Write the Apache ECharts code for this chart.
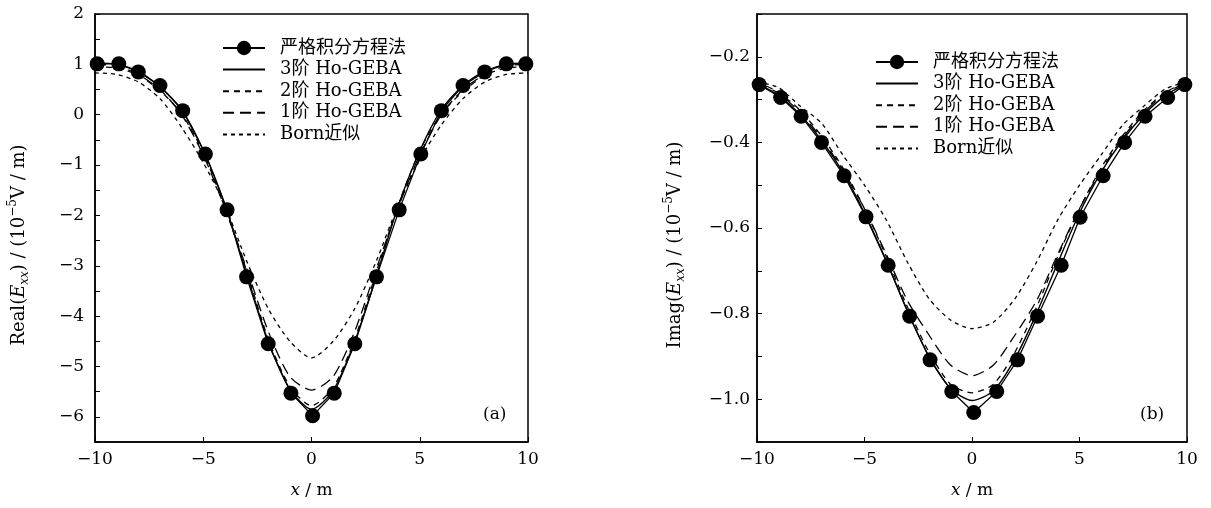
<!DOCTYPE html>
<html>
<head>
<meta charset="utf-8">
<script src="https://cdn.jsdelivr.net/npm/echarts@6/dist/echarts.min.js"></script>
<style>
  html, body { margin: 0; padding: 0; background: #fff; }
  #chart { width: 1211px; height: 508px; }
</style>
</head>
<body>
<div id="chart"></div>
<script>
// ---------- data ----------
const seriesNames = ['严格积分方程法', '3阶 Ho-GEBA', '2阶 Ho-GEBA', '1阶 Ho-GEBA', 'Born近似'];

// x positions of the approximate-method curves (m)
const xLine = [-10, -9, -8, -7, -6, -5, -4, -3, -2, -1, 0, 1, 2, 3, 4, 5, 6, 7, 8, 9, 10];

// (a) Real(Exx)
const xExactA = [-9.9, -8.9, -8, -7, -5.95, -4.9, -3.9, -3, -2, -0.95, 0.05, 1.05, 2, 3, 4.05, 5.05, 6, 7, 8, 9, 9.9];
const exactA  = [1.01, 1.01, 0.85, 0.58, 0.08, -0.78, -1.89, -3.22, -4.55, -5.53, -5.98, -5.53, -4.55, -3.22, -1.89, -0.78, 0.08, 0.58, 0.85, 1.01, 1.01];
const order3A = [1.03, 1.0, 0.86, 0.55, 0.1, -0.7, -1.78, -3.15, -4.5, -5.45, -5.85, -5.48, -4.5, -3.2, -1.82, -0.72, 0.1, 0.58, 0.86, 1.0, 1.03];
const order2A = [0.95, 0.93, 0.78, 0.48, 0.02, -0.75, -1.85, -3.1, -4.45, -5.4, -5.78, -5.42, -4.45, -3.12, -1.8, -0.72, 0.02, 0.46, 0.78, 0.93, 0.95];
const order1A = [1.0, 0.97, 0.8, 0.5, 0.0, -0.8, -1.85, -3.05, -4.3, -5.2, -5.47, -5.2, -4.3, -3.05, -1.85, -0.8, 0.0, 0.5, 0.8, 0.97, 1.0];
const bornA   = [0.83, 0.8, 0.65, 0.32, -0.25, -0.95, -1.8, -2.9, -3.85, -4.5, -4.83, -4.5, -3.85, -2.9, -1.8, -0.9, -0.2, 0.32, 0.65, 0.8, 0.83];

// (b) Imag(Exx)
const xExactB = [-9.9, -8.9, -7.95, -7, -5.95, -4.93, -3.9, -2.9, -1.95, -0.94, 0.08, 1.15, 2.12, 3.05, 4.15, 5.03, 6.1, 7.1, 8.05, 9.1, 9.9];
const exactB  = [-0.265, -0.295, -0.339, -0.40, -0.478, -0.574, -0.687, -0.806, -0.908, -0.982, -1.031, -0.982, -0.908, -0.806, -0.687, -0.575, -0.478, -0.40, -0.339, -0.295, -0.265];
const order3B = [-0.262, -0.29, -0.335, -0.395, -0.47, -0.565, -0.675, -0.795, -0.9, -0.975, -1.003, -0.98, -0.905, -0.8, -0.68, -0.565, -0.47, -0.395, -0.335, -0.29, -0.262];
const order2B = [-0.258, -0.283, -0.325, -0.385, -0.46, -0.555, -0.665, -0.785, -0.89, -0.965, -0.985, -0.965, -0.89, -0.785, -0.665, -0.555, -0.46, -0.385, -0.325, -0.283, -0.258];
const order1B = [-0.26, -0.285, -0.33, -0.39, -0.465, -0.555, -0.66, -0.77, -0.85, -0.92, -0.945, -0.92, -0.85, -0.77, -0.66, -0.555, -0.465, -0.39, -0.33, -0.285, -0.26];
const bornB   = [-0.258, -0.272, -0.315, -0.355, -0.43, -0.5, -0.58, -0.68, -0.765, -0.815, -0.835, -0.82, -0.765, -0.68, -0.58, -0.5, -0.43, -0.36, -0.315, -0.275, -0.258];

// tick labels
const xTickLabels  = [-10, -5, 0, 5, 10];
const yTickLabelsA = [2, 1, 0, -1, -2, -3, -4, -5, -6];
const yTickLabelsB = [-0.2, -0.4, -0.6, -0.8, -1.0];

// ---------- helpers ----------
const FONT = "'DejaVu Serif', 'Noto Sans CJK SC', serif";
const pair = (xs, ys) => xs.map((x, i) => [x, ys[i]]);
const fmtNum = (v, dec) => {
  const s = Math.abs(v).toFixed(dec);
  return (v < -1e-9 ? '\u2212' : '') + s;
};
const inList = (v, list) => list.some(t => Math.abs(t - v) < 1e-6);

function xAxisCfg(gridIndex) {
  return {
    type: 'value', gridIndex, min: -10, max: 10, interval: 5,
    axisLine: { show: true, onZero: false, lineStyle: { color: '#000', width: 1.5 } },
    axisTick: { show: true, inside: true, length: 5, lineStyle: { color: '#000', width: 1 } },
    axisLabel: {
      margin: 9, color: '#000', fontFamily: FONT, fontSize: 17,
      formatter: v => inList(v, xTickLabels) ? fmtNum(v, 0) : ''
    },
    splitLine: { show: false },
    name: '{i|x} / m', nameLocation: 'middle', nameGap: 40,
    nameTextStyle: {
      color: '#000', fontFamily: FONT, fontSize: 17,
      rich: { i: { fontStyle: 'italic', fontFamily: FONT, fontSize: 17, color: '#000' } }
    }
  };
}

const nameRich = {
  e: { fontStyle: 'italic', fontFamily: FONT, fontSize: 18, color: '#000', lineHeight: 24 },
  sub: { fontStyle: 'italic', fontFamily: FONT, fontSize: 12, color: '#000', verticalAlign: 'bottom', lineHeight: 24 },
  sup: { fontFamily: FONT, fontSize: 12, color: '#000', verticalAlign: 'top', lineHeight: 24 }
};

function yAxisCfg(gridIndex, min, max, interval, labels, dec, name, gap, margin) {
  return {
    type: 'value', gridIndex, min, max, interval,
    axisLine: { show: true, onZero: false, lineStyle: { color: '#000', width: 1.5 } },
    axisTick: { show: true, inside: true, length: 5, lineStyle: { color: '#000', width: 1 } },
    axisLabel: {
      margin, color: '#000', fontFamily: FONT, fontSize: 17,
      showMinLabel: true, showMaxLabel: true,
      formatter: v => inList(v, labels) ? fmtNum(v, dec) : ''
    },
    splitLine: { show: false },
    name, nameLocation: 'middle', nameRotate: 90, nameGap: gap,
    nameTextStyle: { color: '#000', fontFamily: FONT, fontSize: 18, lineHeight: 24, rich: nameRich, padding: [0, 34, 0, 0] }
  };
}

const styles = [
  { symbol: 'circle', symbolSize: 15, lineStyle: { color: '#000', width: 1.3, type: 'solid' } },
  { symbol: 'none', lineStyle: { color: '#000', width: 1.4, type: 'solid' } },
  { symbol: 'none', lineStyle: { color: '#000', width: 1.3, type: [6, 5] } },
  { symbol: 'none', lineStyle: { color: '#000', width: 1.3, type: [11, 6] } },
  { symbol: 'none', lineStyle: { color: '#000', width: 1.3, type: [4, 4] } }
];

function makeSeries(idx, dataSets) {
  return dataSets.map((d, k) => Object.assign({
    type: 'line', name: seriesNames[k], xAxisIndex: idx, yAxisIndex: idx,
    data: d, itemStyle: { color: '#000' }, smooth: k === 0 ? false : 0.25,
    z: k === 0 ? 5 : 3
  }, JSON.parse(JSON.stringify(styles[k]))));
}

const seriesA = makeSeries(0, [
  pair(xExactA, exactA), pair(xLine, order3A), pair(xLine, order2A), pair(xLine, order1A), pair(xLine, bornA)
]);
const seriesB = makeSeries(1, [
  pair(xExactB, exactB), pair(xLine, order3B), pair(xLine, order2B), pair(xLine, order1B), pair(xLine, bornB)
]);

function legendCfg(left, top) {
  return {
    orient: 'vertical', left, top, padding: 0,
    itemWidth: 42, itemHeight: 18, itemGap: 3.6,
    textStyle: { color: '#000', fontFamily: FONT, fontSize: 18, lineHeight: 18, padding: [0, 0, 0, 10] },
    data: seriesNames.map((n, k) => k === 0 ? { name: n } : { name: n, itemStyle: { opacity: 0 } }),
    selectedMode: false
  };
}

const chart = echarts.init(document.getElementById('chart'), null, { renderer: 'canvas' });
chart.setOption({
  animation: false,
  backgroundColor: '#fff',
  title: [
    { text: '(a)', left: 478, top: 401, textStyle: { color: '#000', fontFamily: FONT, fontSize: 17, fontWeight: 'normal' } },
    { text: '(b)', left: 1135, top: 401, textStyle: { color: '#000', fontFamily: FONT, fontSize: 17, fontWeight: 'normal' } }
  ],
  grid: [
    { left: 95, top: 14, width: 433, height: 428, show: true, borderColor: '#000', borderWidth: 1.5, containLabel: false },
    { left: 757, top: 14, width: 430, height: 428, show: true, borderColor: '#000', borderWidth: 1.5, containLabel: false }
  ],
  legend: [legendCfg(222, 39), legendCfg(875, 53)],
  xAxis: [xAxisCfg(0), xAxisCfg(1)],
  yAxis: [
    yAxisCfg(0, -6.5, 2, 0.5, yTickLabelsA, 0, 'Real({e|E}{sub|xx}) / (10{sup|\u22125}V / m)', 64, 11),
    yAxisCfg(1, -1.1, -0.1, 0.1, yTickLabelsB, 1, 'Imag({e|E}{sub|xx}) / (10{sup|\u22125}V / m)', 70, 7)
  ],
  series: seriesA.concat(seriesB)
});
</script>
</body>
</html>
